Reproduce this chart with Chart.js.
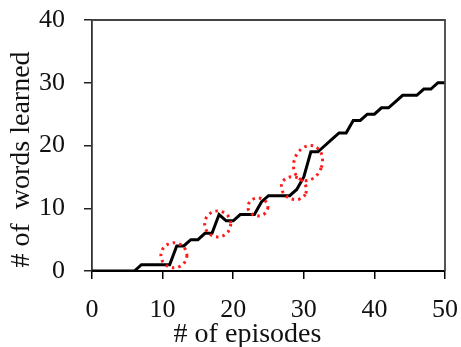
<!DOCTYPE html>
<html>
<head>
<meta charset="utf-8">
<script src="https://cdn.jsdelivr.net/npm/chart.js@4"></script>
<style>
  html, body { margin: 0; padding: 0; background: #fff; }
  #wrap { width: 461px; height: 347px; }
</style>
</head>
<body>
<div id="wrap"><canvas id="words"></canvas></div>
<script>
const episodes = [0, 1, 2, 3, 4, 5, 6, 7, 8, 9, 10, 11, 12, 13, 14, 15, 16, 17, 18, 19, 20,
  21, 22, 23, 24, 25, 26, 27, 28, 29, 30, 31, 32, 33, 34, 35, 36, 37, 38, 39, 40,
  41, 42, 43, 44, 45, 46, 47, 48, 49, 50]
const wordsLearned = [0, 0, 0, 0, 0, 0, 0, 1, 1, 1, 1, 1, 4, 4, 5, 5, 6, 6, 9, 8, 8,
  9, 9, 9, 11, 12, 12, 12, 12, 13, 15, 19, 19, 20, 21, 22, 22, 24, 24, 25, 25,
  26, 26, 27, 28, 28, 28, 29, 29, 30, 30]

// spots where the learner jumps ahead
const markEpisodes = [11.6, 17.8, 23.5, 28.6, 30.6]
const markWords = [2.5, 7.5, 10.2, 13.2, 17.2]

const xTicks = [0, 10, 20, 30, 40, 50]
const yTicks = [0, 10, 20, 30, 40]

const serif = '"Liberation Serif", "Times New Roman", serif'

// dotted red ellipses around the marked spots + the frame on top/right
const overlay = {
  id: 'overlay',
  afterDatasetsDraw(chart, args, opts) {
    const { ctx, chartArea, scales } = chart
    ctx.save()
    ctx.strokeStyle = '#444'
    ctx.lineWidth = 1.8
    ctx.beginPath()
    ctx.moveTo(chartArea.left, chartArea.top)
    ctx.lineTo(chartArea.right, chartArea.top)
    ctx.lineTo(chartArea.right, chartArea.bottom)
    ctx.stroke()

    ctx.strokeStyle = '#ff1a1a'
    ctx.lineWidth = 3
    ctx.setLineDash([2.5, 4])
    markEpisodes.forEach((ep, i) => {
      const cx = scales.x.getPixelForValue(ep)
      const cy = scales.y.getPixelForValue(markWords[i])
      ctx.beginPath()
      ctx.ellipse(cx, cy, opts.rx[i], opts.ry[i], opts.rot[i], 0, Math.PI * 2)
      ctx.stroke()
    })
    ctx.restore()
  },
}

const onPageLoad = () => {
  new Chart(document.getElementById('words'), {
    type: 'line',
    data: {
      datasets: [
        {
          data: episodes.map((ep, i) => ({ x: ep, y: wordsLearned[i] })),
          borderColor: '#000',
          borderWidth: 3,
          pointRadius: 0,
          tension: 0,
        },
      ],
    },
    plugins: [overlay],
    options: {
      responsive: true,
      maintainAspectRatio: false,
      animation: false,
      layout: { padding: { top: 20, right: 16, left: 0, bottom: 0 } },
      plugins: {
        legend: { display: false },
        tooltip: { enabled: false },
        overlay: {
          rx: [13, 13, 10, 13, 14],
          ry: [12.5, 13, 9, 11, 18],
          rot: [0, 0, 0, 0.5, 0.35],
        },
      },
      scales: {
        x: {
          type: 'linear',
          min: 0,
          max: 50,
          afterBuildTicks: (axis) => { axis.ticks = xTicks.map((v) => ({ value: v })) },
          afterFit: (axis) => {
            axis.height = 76
            axis.paddingLeft = 0
            axis.paddingRight = 0
          },
          grid: { drawOnChartArea: false, color: '#000', tickLength: 8, lineWidth: 1.5 },
          border: { color: '#000', width: 2 },
          ticks: { color: '#111', font: { family: serif, size: 26 }, padding: 16, maxRotation: 0 },
          title: {
            display: true,
            text: '# of episodes      ',
            color: '#111',
            font: { family: serif, size: 28 },
            padding: { top: 0, bottom: -4 },
          },
        },
        y: {
          min: 0,
          max: 40,
          afterBuildTicks: (axis) => { axis.ticks = yTicks.map((v) => ({ value: v })) },
          afterFit: (axis) => {
            axis.width = 92
            axis.paddingTop = 0
            axis.paddingBottom = 0
          },
          grid: { drawOnChartArea: false, color: '#222', tickLength: 8, lineWidth: 1.5 },
          border: { color: '#333', width: 1.8 },
          ticks: { color: '#111', font: { family: serif, size: 26 }, padding: 19 },
          title: {
            display: true,
            text: '# of  words learned    ',
            color: '#111',
            font: { family: serif, size: 28 },
            padding: { top: 5, bottom: 0 },
          },
        },
      },
    },
  })
}

document.addEventListener('DOMContentLoaded', onPageLoad)
</script>
</body>
</html>
